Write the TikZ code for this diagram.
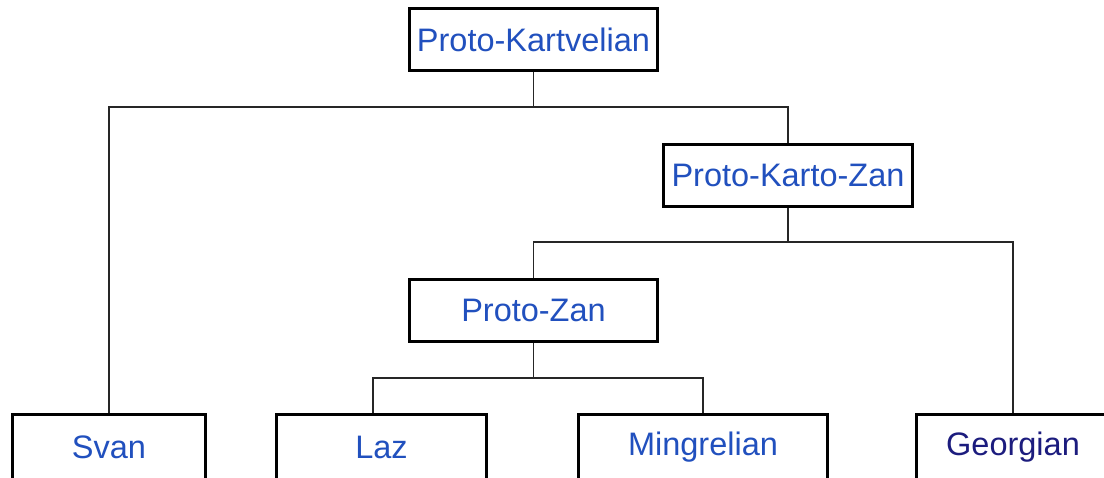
\documentclass[tikz,border=0pt]{standalone}
\usepackage{fontspec}
\setmainfont{Liberation Sans}
\definecolor{langblue}{HTML}{2150BE}
\definecolor{langnavy}{HTML}{1C1C7E}
\begin{document}
\begin{tikzpicture}[x=1pt,y=-1pt,
  langbox/.style={draw=black, line width=3pt, fill=white, rectangle,
    minimum height=62pt, inner sep=0pt, font=\fontsize{32.5}{36}\selectfont,
    text=langblue},
  leafbox/.style={langbox, minimum height=65pt},
  branch/.style={draw=black!85, line width=1.5pt}]
\useasboundingbox (0,0) rectangle (1104,478);
\clip (0,0) rectangle (1104,478);

% internal nodes
\node[langbox, minimum width=248pt] (pk)  at (533.5,39.5)  {Proto-Kartvelian};
\node[langbox, minimum width=249pt] (pkz) at (788,175.5)   {Proto-Karto-Zan};
\node[langbox, minimum width=248pt] (pz)  at (533.5,310.5) {Proto-Zan};

% leaves
\node[leafbox, minimum width=193pt] (svan) at (109,447)    {Svan};
\node[leafbox, minimum width=210pt] (laz)  at (381.5,447)  {Laz};
\node[leafbox, minimum width=249pt] (ming) at (703,447)    {Mingrelian};
\node[leafbox, minimum width=194pt, text=langnavy] (geo) at (1013,447) {Georgian};

% junction points of the branches
\coordinate (j1) at (533.5,107);
\coordinate (j2) at (788,242);
\coordinate (j3) at (533.5,378);

% branches
\draw[branch] (pk.south) -- (j1) -| (svan.north);
\draw[branch] (j1) -| (pkz.north);
\draw[branch] (pkz.south) -- (j2) -| (pz.north);
\draw[branch] (j2) -| (geo.north);
\draw[branch] (pz.south) -- (j3) -| ([xshift=-8.5pt]laz.north);
\draw[branch] (j3) -| (ming.north);
\end{tikzpicture}
\end{document}
